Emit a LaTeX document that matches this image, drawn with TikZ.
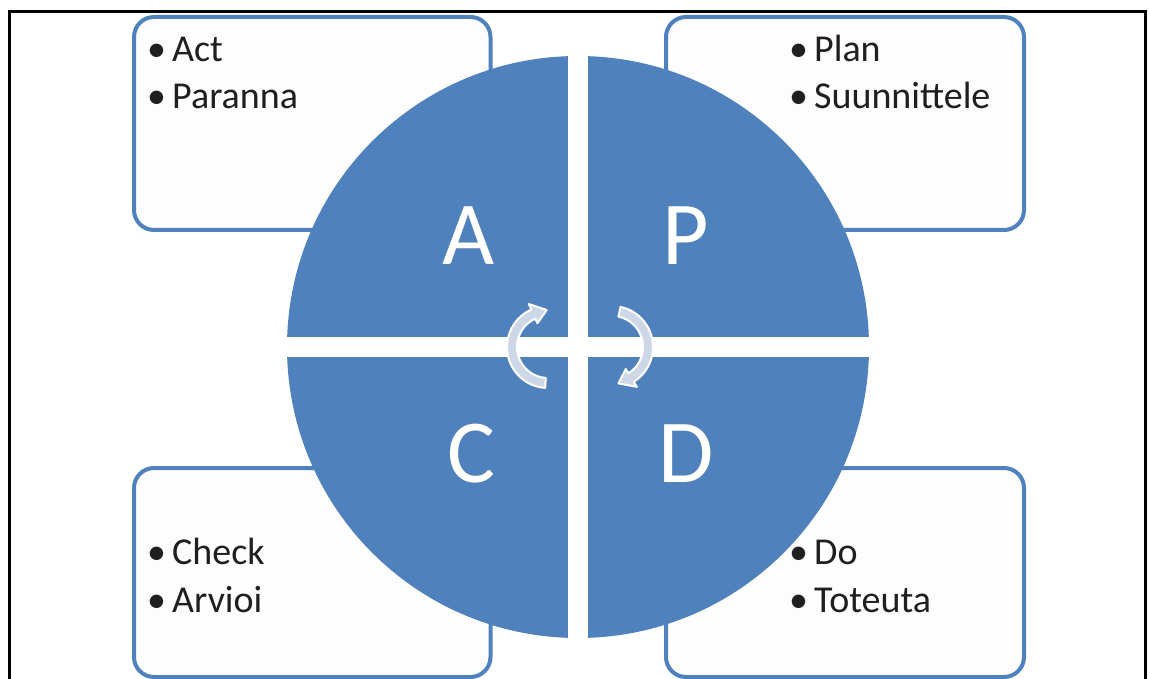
\documentclass[tikz,border=0pt]{standalone}
\usepackage{fontspec}
\setmainfont{Carlito}
\usetikzlibrary{calc}
\definecolor{pdcablue}{RGB}{79,129,189}
\definecolor{cyclefill}{RGB}{206,215,232}
\definecolor{boxfill}{RGB}{253,253,253}
\tikzset{
  infobox/.style={draw=pdcablue, line width=4pt, fill=boxfill, rounded corners=20pt, inner sep=0pt},
  boxtext/.style={anchor=base west, inner sep=0pt, font=\fontsize{38}{46}\selectfont, text=black!88},
  letter/.style={anchor=base, inner sep=0pt, text=white, font=\fontsize{90}{90}\selectfont},
  cyc/.style={fill=cyclefill, draw=white, line width=2pt, line join=round},
  frame/.style={draw=black, line width=3pt}
}
\newcommand{\bul}[1]{\makebox[25pt][l]{•}#1}
\begin{document}
\begin{tikzpicture}[x=1pt,y=-1pt]
\useasboundingbox (0,0) rectangle (1149,679);
\clip (0,0) rectangle (1149,679);
% outer frame
\draw[frame] (9.5,700) -- (9.5,12) -- (1145,12) -- (1145,700);
% boxes
\node[infobox, minimum width=356.5pt, minimum height=213pt] (boxA) at (312.25,123.5) {};
\node[infobox, minimum width=358pt, minimum height=213pt] (boxP) at (845,123.5) {};
\node[infobox, minimum width=356.5pt, minimum height=209pt] (boxC) at (312.25,572.5) {};
\node[infobox, minimum width=358pt, minimum height=209pt] (boxD) at (845,572.5) {};
% box texts
\node[boxtext] (tA1) at (147,62) {\bul{Act}};
\node[boxtext] (tA2) at (147,109) {\bul{Paranna}};
\node[boxtext] (tP1) at (789,62) {\bul{Plan}};
\node[boxtext] (tP2) at (789,109) {\bul{Suunnittele}};
\node[boxtext] (tC1) at (147,564) {\bul{Check}};
\node[boxtext] (tC2) at (147,612) {\bul{Arvioi}};
\node[boxtext] (tD1) at (789,564) {\bul{Do}};
\node[boxtext] (tD2) at (789,612) {\bul{Toteuta}};
% circle quadrants
\begin{scope}
  \clip (578,347) circle (291);
  \fill[pdcablue] (280,50) rectangle (568,337);
  \fill[pdcablue] (588,50) rectangle (880,337);
  \fill[pdcablue] (280,357) rectangle (568,645);
  \fill[pdcablue] (588,357) rectangle (880,645);
\end{scope}
% letters
\node[letter] (A) at (469,265) {A};
\node[letter] (P) at (686,265) {P};
\node[letter] (C) at (471,482) {C};
\node[letter] (D) at (686,482) {D};
% cycle arrows
\coordinate (cL) at (548,347);
\coordinate (cR) at (612,347);
\filldraw[cyc] ($(cL)+(94:41)$) arc[start angle=94, end angle=246, radius=41]
  -- ($(cL)+(246:47)$) -- ($(cL)+(268:37)$) -- ($(cL)+(246:26)$)
  -- ($(cL)+(246:31)$) arc[start angle=246, end angle=94, radius=31] -- cycle;
\filldraw[cyc] ($(cR)+(282:41)$) arc[start angle=282, end angle=418, radius=41]
  -- ($(cR)+(418:47)$) -- ($(cR)+(440:37)$) -- ($(cR)+(418:26)$)
  -- ($(cR)+(418:31)$) arc[start angle=418, end angle=282, radius=31] -- cycle;
\end{tikzpicture}
\end{document}
